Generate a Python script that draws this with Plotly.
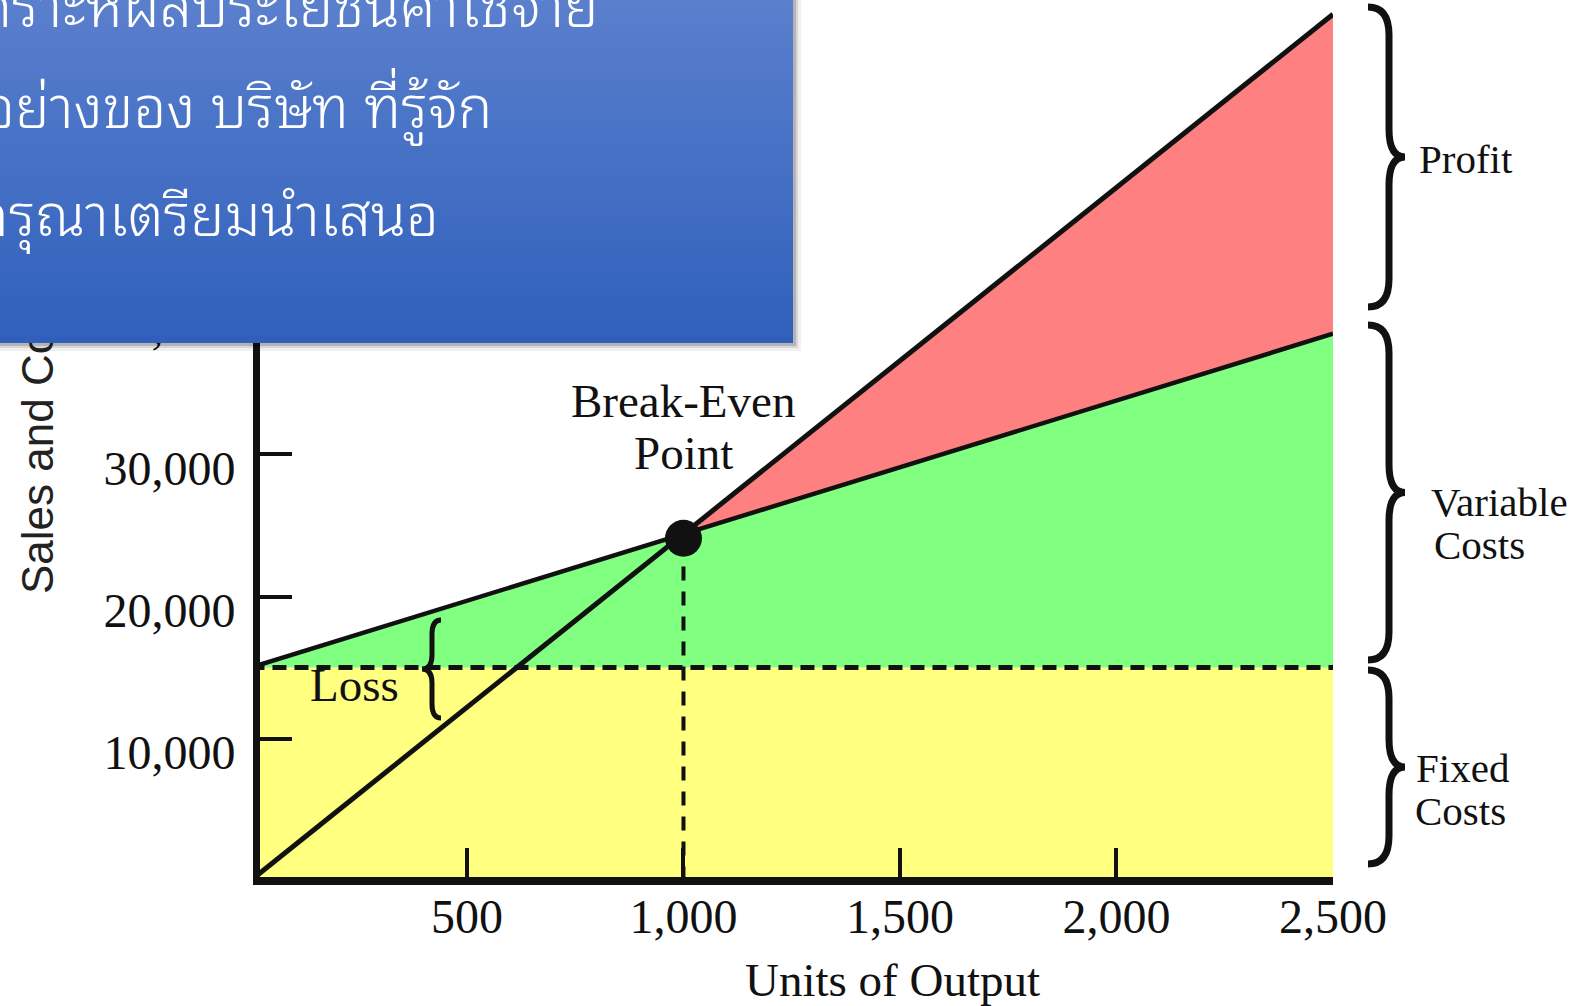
import plotly.graph_objects as go

# ---------------- data ----------------
units = [0, 1000, 2500]
sales = [0, 24400, 61000]
total_cost = [15000, 24400, 38500]
fixed_cost = [15000, 15000, 15000]
break_even_units = [1000]
break_even_value = [24100]

x_tick_vals = [500, 1000, 1500, 2000, 2500]
x_tick_text = ["500", "1,000", "1,500", "2,000", "2,500"]
y_tick_vals = [10000, 20000, 30000, 40000, 50000, 60000]
y_tick_text = ["10,000", "20,000", "30,000", "40,000", "50,000", "60,000"]

thai_lines = [
    "การวิเคราะห์ผลประโยชน์ค่าใช้จ่าย",
    "ยกตัวอย่างของ บริษัท ที่รู้จัก",
    "กรุณาเตรียมนำเสนอ",
]

# ---------------- geometry helpers ----------------
W_PAGE, H_PAGE = 1580, 1006
L, R, T, B = 260, 1333, 0, 877
PW, PH = R - L, B - T
X_RANGE = [22, 2500]
Y_RANGE = [250, 62000]


def px(xp):
    return (xp - L) / PW


def py(yp):
    return (B - yp) / PH


SERIF = "Liberation Serif, Times New Roman, serif"
INK = "#111111"
YELLOW = "#FFFF80"
GREEN = "#80FF80"
RED = "#FF8080"

fig = go.Figure()

# fixed cost region (yellow)
fig.add_trace(go.Scatter(x=units, y=fixed_cost, mode="lines", line=dict(width=0),
                         fill="tozeroy", fillcolor=YELLOW, hoverinfo="skip", showlegend=False))
# variable cost region (green)
fig.add_trace(go.Scatter(x=units, y=total_cost, mode="lines", line=dict(width=0),
                         fill="tonexty", fillcolor=GREEN, hoverinfo="skip", showlegend=False))
# profit region (red)
fig.add_trace(go.Scatter(x=units[1:], y=total_cost[1:], mode="lines", line=dict(width=0),
                         hoverinfo="skip", showlegend=False))
fig.add_trace(go.Scatter(x=units[1:], y=sales[1:], mode="lines", line=dict(width=0),
                         fill="tonexty", fillcolor=RED, hoverinfo="skip", showlegend=False))
# dashed fixed cost line
fig.add_trace(go.Scatter(x=units, y=fixed_cost, mode="lines",
                         line=dict(color=INK, width=5, dash="14px,8px"), showlegend=False))
# dashed break-even drop line
fig.add_trace(go.Scatter(x=[break_even_units[0], break_even_units[0]], y=[0, break_even_value[0]],
                         mode="lines", line=dict(color=INK, width=4, dash="14px,11px"), showlegend=False))
# total cost line
fig.add_trace(go.Scatter(x=units, y=total_cost, mode="lines",
                         line=dict(color=INK, width=4.5), showlegend=False))
# sales line
fig.add_trace(go.Scatter(x=units, y=sales, mode="lines",
                         line=dict(color=INK, width=5), showlegend=False))
# break-even point
fig.add_trace(go.Scatter(x=break_even_units, y=break_even_value, mode="markers",
                         marker=dict(color=INK, size=37), showlegend=False))

# ---------------- braces ----------------
def brace_right(xe, xs, xt, yt, yb, r):
    ym = (yt + yb) / 2
    pts = [
        f"M {px(xe)},{py(yt)}",
        f"Q {px(xs)},{py(yt)} {px(xs)},{py(yt + r)}",
        f"L {px(xs)},{py(ym - r)}",
        f"Q {px(xs)},{py(ym)} {px(xt)},{py(ym)}",
        f"Q {px(xs)},{py(ym)} {px(xs)},{py(ym + r)}",
        f"L {px(xs)},{py(yb - r)}",
        f"Q {px(xs)},{py(yb)} {px(xe)},{py(yb)}",
    ]
    return " ".join(pts)


shapes = []
for yt, yb in [(7, 307), (325, 660), (670, 864)]:
    shapes.append(dict(type="path", xref="paper", yref="paper",
                       path=brace_right(1368, 1389, 1405, yt, yb, 28),
                       line=dict(color=INK, width=7), layer="above"))
# loss brace (pointing left)
shapes.append(dict(type="path", xref="paper", yref="paper",
                   path=brace_right(441, 432, 422, 620, 718, 14),
                   line=dict(color=INK, width=5), layer="above"))

# ---------------- annotations ----------------
ann = []


def text(t, x, y, size, xanchor="center", yanchor="middle", xref="paper", yref="paper",
         family=SERIF, color=INK, angle=0, weight="normal"):
    ann.append(dict(text=t, x=x, y=y, xref=xref, yref=yref, xanchor=xanchor, yanchor=yanchor,
                    showarrow=False, textangle=angle,
                    font=dict(family=family, size=size, color=color, weight=weight)))


# axis titles
text("Units of Output", px(892), py(980), 47)
text("Sales and Costs ($)", px(37), py(596), 44, yanchor="bottom",
     family="Liberation Sans, Arial, sans-serif", color="#222222", angle=-90)

# in-plot labels
text("Break-Even", 1000, 33800, 47, xref="x", yref="y")
text("Point", 1000, 30100, 47, xref="x", yref="y")
text("Loss", 240, 13750, 47, xref="x", yref="y")

# right-side labels
text("Profit", px(1417), py(159), 41, xanchor="left")
text("Variable", px(1429), py(502), 41, xanchor="left")
text("Costs", px(1432), py(545), 41, xanchor="left")
text("Fixed", px(1414), py(768), 41, xanchor="left")
text("Costs", px(1413), py(811), 41, xanchor="left")

# slide box with vertical gradient (drawn as stacked strips)
box_r, box_b = 793, 343
for off, a in [(8, 0.06), (5, 0.10), (3, 0.16)]:
    ann.append(dict(text=" ", x=px(0), y=py(0), xref="paper", yref="paper", xanchor="left", yanchor="top",
                    width=box_r + off, height=box_b + off, bgcolor=f"rgba(0,0,0,{a})",
                    borderpad=0, borderwidth=0, showarrow=False, font=dict(size=2)))
top_c = (0x5A, 0x7F, 0xCD)
bot_c = (0x2F, 0x60, 0xBB)
n = 40
step = box_b / n
for i in range(n):
    f = (i + 0.5) / n
    c = tuple(round(top_c[k] + (bot_c[k] - top_c[k]) * f) for k in range(3))
    y0 = i * step
    ann.append(dict(text=" ", x=px(0), y=py(y0), xref="paper", yref="paper", xanchor="left", yanchor="top",
                    width=box_r, height=min(step + 1.5, box_b - y0), bgcolor="rgb(%d,%d,%d)" % c,
                    borderpad=0, borderwidth=0, showarrow=False, font=dict(size=2)))

THAI = ("Noto Sans Thai Looped, Loma, Garuda, Sarabun, Noto Serif Thai, "
        "Noto Sans Thai, sans-serif")
for line_text, x_end, y_c in zip(thai_lines, [601, 494, 441], [0, 102, 209]):
    text(line_text, px(x_end), py(y_c), 58, xanchor="right", family=THAI, color="white", weight=300)

fig.update_layout(
    width=W_PAGE, height=H_PAGE,
    margin=dict(l=L, r=W_PAGE - R, t=T, b=H_PAGE - B),
    paper_bgcolor="white", plot_bgcolor="white",
    shapes=shapes, annotations=ann,
    xaxis=dict(range=X_RANGE, showgrid=False, zeroline=False,
               showline=True, linecolor=INK, linewidth=8,
               ticks="inside", ticklen=29, tickwidth=4, tickcolor=INK,
               tickvals=x_tick_vals, ticktext=x_tick_text, ticklabelstandoff=-10,
               tickfont=dict(family=SERIF, size=48, color=INK)),
    yaxis=dict(range=Y_RANGE, showgrid=False, zeroline=False,
               showline=True, linecolor=INK, linewidth=7,
               ticks="inside", ticklen=32, tickwidth=4, tickcolor=INK,
               tickvals=y_tick_vals, ticktext=y_tick_text, ticklabelstandoff=8,
               ticklabelshift=14,
               tickfont=dict(family=SERIF, size=48, color=INK)),
)

fig.write_html("out.html")
